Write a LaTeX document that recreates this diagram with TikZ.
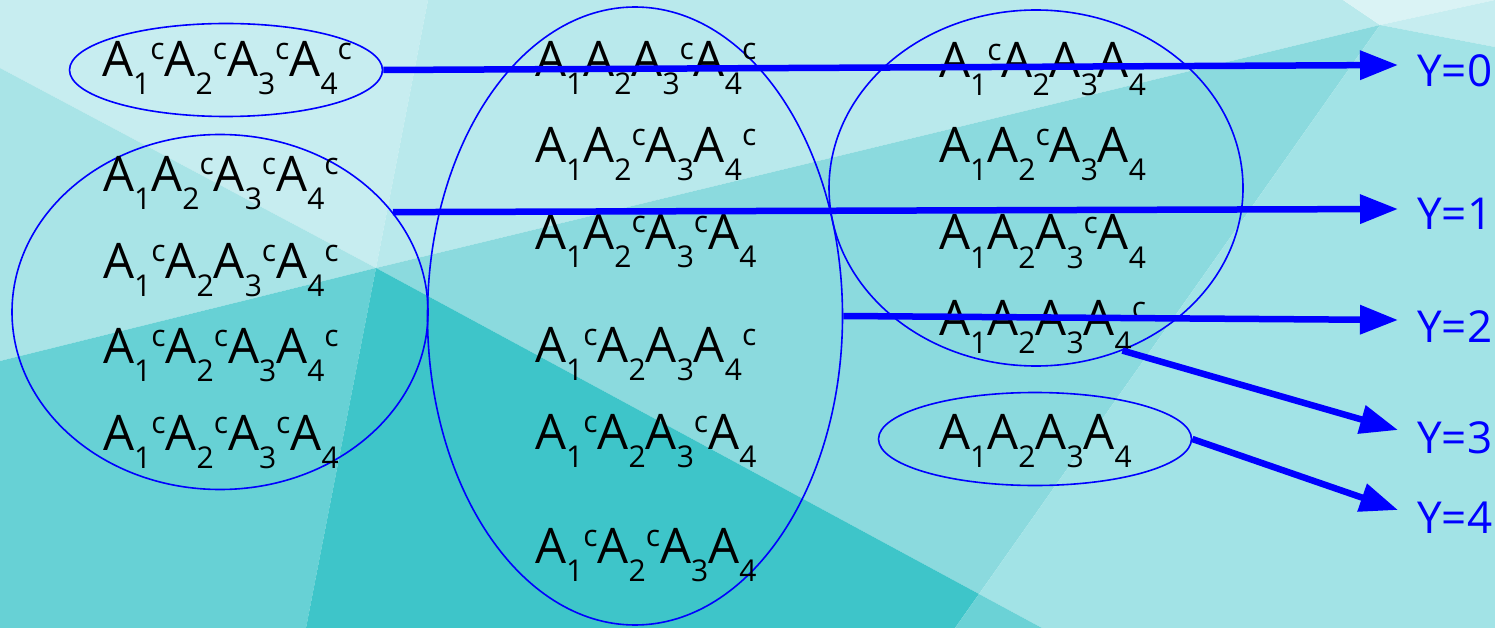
\documentclass[tikz,border=0pt]{standalone}
\usepackage{fontspec}
\setmainfont{Open Sans}
\usetikzlibrary{shapes.geometric,arrows.meta}

% background facets
\definecolor{facetA}{HTML}{C7EDF0}
\definecolor{facetB}{HTML}{B9E9EC}
\definecolor{facetC}{HTML}{DAF3F5}
\definecolor{facetD}{HTML}{C6EDF0}
\definecolor{facetE}{HTML}{A9E4E7}
\definecolor{facetF}{HTML}{8BDADE}
\definecolor{facetG}{HTML}{A2E3E6}
\definecolor{facetH}{HTML}{67D1D5}
\definecolor{facetI}{HTML}{3EC5C9}
\definecolor{facetK}{HTML}{6BD2D6}
\definecolor{setblue}{HTML}{0000FF}

% event notation: A with index, optionally complemented
\newcommand\lowidx[1]{\raisebox{-18pt}{\fontsize{30}{30}\selectfont #1}}
\newcommand\highc{\raisebox{17pt}{\fontsize{30}{30}\selectfont c}}
\newcommand\evc[1]{A\lowidx{#1}\highc}
\newcommand\ev[1]{A\lowidx{#1}}

\tikzset{
  grp/.style={draw=setblue, line width=1.6pt, ellipse, inner sep=0pt},
  term/.style={anchor=base west, inner sep=0pt, font=\fontsize{49}{49}\selectfont, text=black},
  ylab/.style={anchor=west, inner sep=0pt, font=\fontsize{44}{44}\selectfont, text=setblue},
  flow/.style={draw=setblue, line width=6.5pt, -{Triangle[length=38pt,width=28pt]}}
}

\begin{document}
\begin{tikzpicture}[x=1pt,y=-1pt]
\useasboundingbox (0,0) rectangle (1495,628);

% faceted backdrop
\fill[facetA] (0,0) -- (428,0) -- (376,268) -- (0,68) -- cycle;
\fill[facetB] (428,0) -- (1343,0) -- (1380,25) -- (376,268) -- cycle;
\fill[facetC] (1343,0) -- (1495,0) -- (1380,25) -- cycle;
\fill[facetD] (1380,25) -- (1495,0) -- (1495,47) -- cycle;
\fill[facetE] (0,68) -- (376,268) -- (0,361) -- cycle;
\fill[facetF] (376,268) -- (1380,25) -- (979,594) -- cycle;
\fill[facetG] (1380,25) -- (1495,47) -- (1495,628) -- (1042,628) -- (979,594) -- cycle;
\fill[facetH] (0,361) -- (376,268) -- (306,628) -- (0,628) -- cycle;
\fill[facetI] (376,268) -- (979,594) -- (955,628) -- (306,628) -- cycle;
\fill[facetK] (979,594) -- (1042,628) -- (955,628) -- cycle;

% groups of outcomes
\node[grp, minimum width=313pt, minimum height=93pt] (g0) at (226,70) {};
\node[grp, minimum width=416pt, minimum height=355pt] (g1) at (220,312) {};
\node[grp, minimum width=415pt, minimum height=618pt] (g2) at (635,316) {};
\node[grp, minimum width=414pt, minimum height=356pt] (g3) at (1036,188) {};
\node[grp, minimum width=313pt, minimum height=93pt] (g4) at (1035,439) {};

% outcomes
\node[term] (t0) at (102,77) {\evc1\evc2\evc3\evc4};

\node[term] (t1) at (103,192) {\ev1\evc2\evc3\evc4};
\node[term] (t2) at (103,278) {\evc1\ev2\evc3\evc4};
\node[term] (t3) at (103,363) {\evc1\evc2\ev3\evc4};
\node[term] (t4) at (103,450) {\evc1\evc2\evc3\ev4};

\node[term] (t5) at (535,77) {\ev1\ev2\evc3\evc4};
\node[term] (t6) at (535,163) {\ev1\evc2\ev3\evc4};
\node[term] (t7) at (535,249) {\ev1\evc2\evc3\ev4};
\node[term] (t8) at (535,362) {\evc1\ev2\ev3\evc4};
\node[term] (t9) at (535,449) {\evc1\ev2\evc3\ev4};
\node[term] (t10) at (535,563) {\evc1\evc2\ev3\ev4};

\node[term] (t11) at (939,78) {\evc1\ev2\ev3\ev4};
\node[term] (t12) at (939,163) {\ev1\evc2\ev3\ev4};
\node[term] (t13) at (939,250) {\ev1\ev2\evc3\ev4};
\node[term] (t14) at (939,335) {\ev1\ev2\ev3\evc4};

\node[term] (t15) at (939,449) {\ev1\ev2\ev3\ev4};

% values of Y
\node[ylab] (y0) at (1417,71) {Y=0};
\node[ylab] (y1) at (1417,214) {Y=1};
\node[ylab] (y2) at (1417,327) {Y=2};
\node[ylab] (y3) at (1417,438) {Y=3};
\node[ylab] (y4) at (1417,518) {Y=4};

% mapping arrows
\draw[flow] (g0.east) -- ([xshift=-19pt,yshift=6pt]y0.west);
\draw[flow] (g1.30) -- ([xshift=-19pt,yshift=5pt]y1.west);
\draw[flow] (g2.east) -- ([xshift=-19pt,yshift=7pt]y2.west);
\draw[flow] (g3.-62) -- ([xshift=-19pt,yshift=8pt]y3.west);
\draw[flow] (g4.east) -- ([xshift=-19pt,yshift=8pt]y4.west);
\end{tikzpicture}
\end{document}
